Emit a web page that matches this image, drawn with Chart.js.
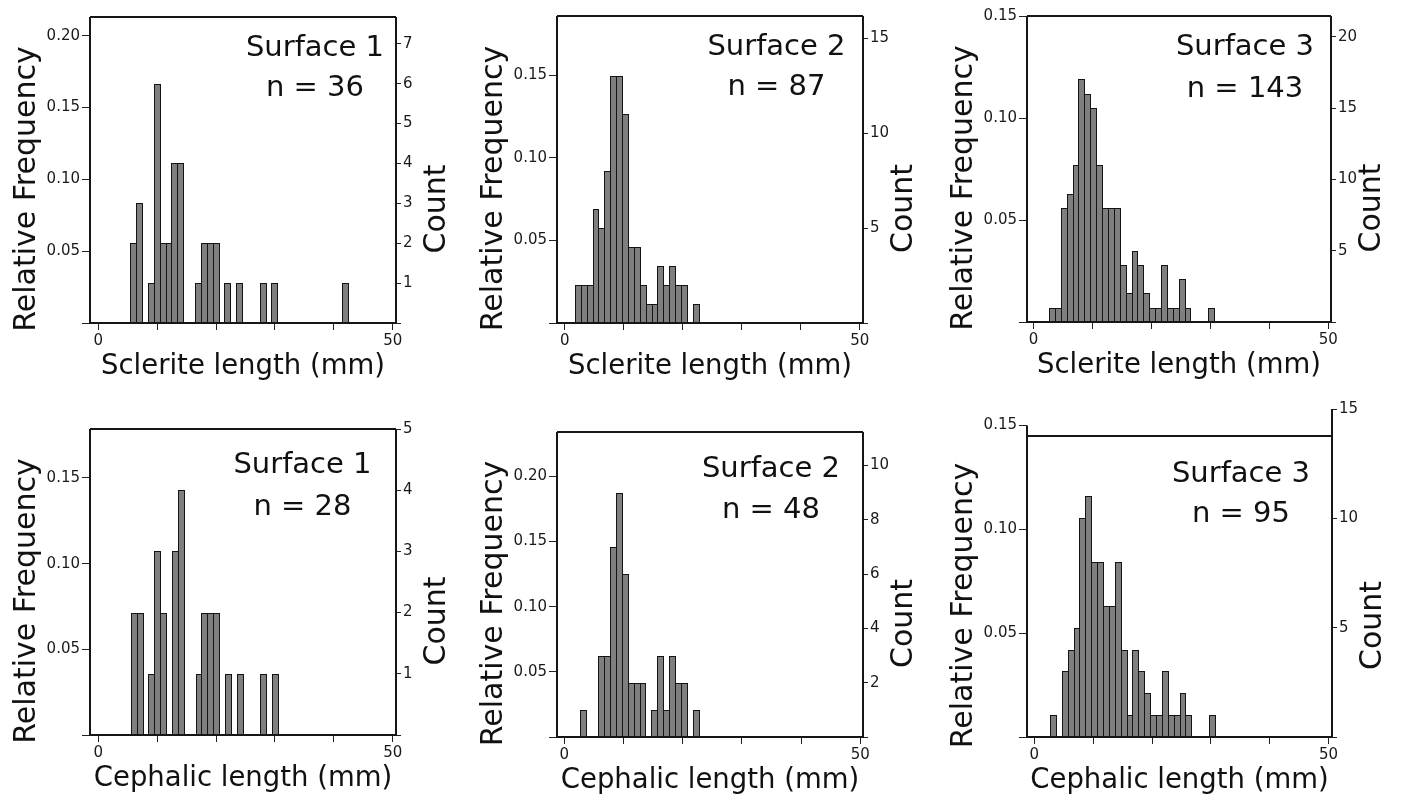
<!DOCTYPE html>
<html>
<head>
<meta charset="utf-8">
<script src="https://cdn.jsdelivr.net/npm/chart.js@4.4.1/dist/chart.umd.min.js"></script>
<style>
  html, body { margin: 0; padding: 0; background: #fff; }
  #figure { position: relative; width: 1402px; height: 796px; overflow: hidden; }
  #figure canvas { position: absolute; }
</style>
</head>
<body>
<div id="figure"></div>
<script>
// ---- data (counts per 1 mm bin, starting at the first bin edge) ----
const surfaceNames = ['Surface 1', 'Surface 2', 'Surface 3'];
const xAxisTitles = ['Sclerite length (mm)', 'Cephalic length (mm)'];
const xTickLabels = [0, 50];

const scleriteN = [36, 87, 143];
const scleriteFirstEdge = [5.5, 1.8, 2.7];
const scleriteCounts1 = [2, 3, 0, 1, 6, 2, 2, 4, 4, 0, 0, 1, 2, 2, 2, 0, 1, 0, 1, 0, 0, 0, 1, 0, 1, 0, 0, 0, 0, 0, 0, 0, 0, 0, 0, 0, 1];
const scleriteCounts2 = [2, 2, 2, 6, 5, 8, 13, 13, 11, 4, 4, 2, 1, 1, 3, 2, 3, 2, 2, 0, 1];
const scleriteCounts3 = [1, 1, 8, 9, 11, 17, 16, 15, 11, 8, 8, 8, 4, 2, 5, 4, 2, 1, 1, 4, 1, 1, 3, 1, 0, 0, 0, 1];

const cephalicN = [28, 48, 95];
const cephalicFirstEdge = [5.6, 2.8, 2.75];
const cephalicCounts1 = [2, 2, 0, 1, 3, 2, 0, 3, 4, 0, 0, 1, 2, 2, 2, 0, 1, 0, 1, 0, 0, 0, 1, 0, 1];
const cephalicCounts2 = [1, 0, 0, 3, 3, 7, 9, 6, 2, 2, 2, 0, 1, 3, 1, 3, 2, 2, 0, 1];
const cephalicCounts3 = [1, 0, 3, 4, 5, 10, 11, 8, 8, 6, 6, 8, 4, 1, 4, 3, 2, 1, 1, 3, 1, 1, 2, 1, 0, 0, 0, 1];

// ---- layout of the six panels (frame = plot box in page pixels) ----
const panels = [
  { counts: scleriteCounts1, n: scleriteN[0], edge: scleriteFirstEdge[0], name: surfaceNames[0], xTitle: xAxisTitles[0],
    frame: [90, 17, 396, 323], rowTop: 0, xMin: -1.41, xMax: 50.56, countMax: 7.67, countStep: 1, dx: 81, dy: [38.5, 78.5] },
  { counts: scleriteCounts2, n: scleriteN[1], edge: scleriteFirstEdge[1], name: surfaceNames[1], xTitle: xAxisTitles[0],
    frame: [557, 16, 863, 323], rowTop: 0, xMin: -1.31, xMax: 50.56, countMax: 16.16, countStep: 5, dx: 86.5, dy: [39.3, 79.3] },
  { counts: scleriteCounts3, n: scleriteN[2], edge: scleriteFirstEdge[2], name: surfaceNames[2], xTitle: xAxisTitles[0],
    frame: [1027, 16, 1331, 322], rowTop: 0, xMin: -1.12, xMax: 50.46, countMax: 21.45, countStep: 5, dx: 86, dy: [39, 80.7] },
  { counts: cephalicCounts1, n: cephalicN[0], edge: cephalicFirstEdge[0], name: surfaceNames[0], xTitle: xAxisTitles[1],
    frame: [90, 429, 396, 735], rowTop: 398, xMin: -1.41, xMax: 50.56, countMax: 5, countStep: 1, dx: 93.5, dy: [44.3, 86] },
  { counts: cephalicCounts2, n: cephalicN[1], edge: cephalicFirstEdge[1], name: surfaceNames[1], xTitle: xAxisTitles[1],
    frame: [557, 432, 863, 737], rowTop: 398, xMin: -1.23, xMax: 50.45, countMax: 11.23, countStep: 2, dx: 92, dy: [45.3, 86.3] },
  { counts: cephalicCounts3, n: cephalicN[2], edge: cephalicFirstEdge[2], name: surfaceNames[2], xTitle: xAxisTitles[1],
    frame: [1027, 405, 1332, 737], rowTop: 398, xMin: -1.25, xMax: 50.58, countMax: 15, countStep: 5,
    frameTop: 13.77, leftTop: 14.25, dx: 91, dy: [46.3, 86.3] },
];

Chart.defaults.font.family = "'DejaVu Sans', Verdana, sans-serif";
Chart.defaults.color = '#1a1a1a';

// snap bar edges to whole pixels so neighbouring outlines share one crisp line
const snapBars = {
  id: 'snapBars',
  afterDatasetUpdate(chart, args) {
    args.meta.data.forEach(el => {
      const l = Math.round(el.x - el.width / 2);
      const r = Math.round(el.x + el.width / 2);
      el.x = (l + r) / 2;
      el.width = r - l;
      el.y = Math.round(el.y);
    });
  }
};

// plot box, axis lines, rotated axis titles and the in-plot label
const histFrame = {
  id: 'histFrame',
  afterDraw(chart, args, o) {
    const { ctx, chartArea: a } = chart;
    const yc = chart.scales.count;
    const topY = Math.round(yc.getPixelForValue(o.frameTop));
    const leftTopY = yc.getPixelForValue(o.leftTop);
    const rightTopY = yc.getPixelForValue(o.rightTop);

    ctx.save();
    ctx.strokeStyle = '#161616';
    ctx.lineWidth = 2;
    ctx.beginPath();
    ctx.moveTo(a.left, leftTopY);
    ctx.lineTo(a.left, a.bottom);
    ctx.lineTo(a.right, a.bottom);
    ctx.lineTo(a.right, rightTopY);
    ctx.moveTo(a.left, topY);
    ctx.lineTo(a.right, topY);
    ctx.stroke();

    ctx.fillStyle = '#111';
    ctx.textAlign = 'center';
    ctx.textBaseline = 'alphabetic';
    ctx.font = "29px 'DejaVu Sans'";
    const cx = a.right - o.dx;
    ctx.fillText(o.name, cx, topY + o.dy[0]);
    ctx.fillText('n = ' + o.n, cx, topY + o.dy[1]);

    const midY = (topY + a.bottom) / 2;
    ctx.textBaseline = 'middle';
    ctx.font = "30px 'DejaVu Sans'";

    ctx.save();
    ctx.translate(a.left - 63, midY + 19);
    ctx.rotate(-Math.PI / 2);
    ctx.fillText('Relative Frequency', 0, 0);
    ctx.restore();

    ctx.save();
    ctx.translate(a.right + 41, midY + 39);
    ctx.rotate(-Math.PI / 2);
    ctx.fillText('Count', 0, 0);
    ctx.restore();

    ctx.restore();
  }
};

const figure = document.getElementById('figure');

panels.forEach(p => {
  const [L, T, R, B] = p.frame;
  const left = L - 90;
  const width = R + 71 - left;
  const height = B + 75 - p.rowTop;
  const unitPx = (R - L) / (p.xMax - p.xMin);

  const canvas = document.createElement('canvas');
  canvas.width = width;
  canvas.height = height;
  canvas.style.left = left + 'px';
  canvas.style.top = p.rowTop + 'px';
  canvas.style.width = width + 'px';
  canvas.style.height = height + 'px';
  figure.appendChild(canvas);

  const bins = p.counts.map((c, i) => ({ x: p.edge + i + 0.5, y: c > 0 ? c : null }));

  new Chart(canvas, {
    type: 'bar',
    data: {
      datasets: [{
        data: bins,
        yAxisID: 'count',
        backgroundColor: '#7f7f7f',
        borderColor: '#141414',
        borderWidth: 1,
        barPercentage: (unitPx + 1) / unitPx,
        categoryPercentage: 1,
      }],
    },
    options: {
      responsive: false,
      animation: false,
      events: [],
      layout: { padding: { top: T - p.rowTop, left: 0, right: 0, bottom: 0 } },
      plugins: {
        legend: { display: false },
        tooltip: { enabled: false },
        histFrame: {
          frameTop: p.frameTop ?? p.countMax,
          leftTop: p.leftTop ?? p.countMax,
          rightTop: p.countMax,
          name: p.name,
          n: p.n,
          dx: p.dx,
          dy: p.dy,
        },
      },
      scales: {
        x: {
          type: 'linear',
          min: p.xMin,
          max: p.xMax,
          offset: false,
          afterFit: s => { s.height = 75; },
          grid: { offset: false, drawOnChartArea: false, tickLength: 7, color: '#222' },
          border: { display: false },
          ticks: {
            stepSize: 10,
            includeBounds: false,
            autoSkip: false,
            maxRotation: 0,
            padding: 2,
            font: { size: 15 },
            callback: v => xTickLabels.includes(v) ? String(v) : '',
          },
          title: {
            display: true,
            text: p.xTitle,
            font: { size: 27.5 },
            color: '#111',
            padding: { top: 0, bottom: 15 },
          },
        },
        rel: {
          type: 'linear',
          position: 'left',
          min: 0,
          max: p.countMax / p.n,
          afterFit: s => { s.width = 90; },
          grid: { drawOnChartArea: false, tickLength: 8, color: '#222' },
          border: { display: false },
          ticks: {
            stepSize: 0.05,
            includeBounds: false,
            padding: 2,
            font: { size: 15 },
            callback: v => v > 0 ? v.toFixed(2) : '',
          },
        },
        count: {
          type: 'linear',
          position: 'right',
          min: 0,
          max: p.countMax,
          afterFit: s => { s.width = 71; },
          grid: { drawOnChartArea: false, tickLength: 5, color: '#222' },
          border: { display: false },
          ticks: {
            stepSize: p.countStep,
            includeBounds: false,
            padding: 2,
            font: { size: 15 },
            callback: v => v > 0 ? v : '',
          },
        },
      },
    },
    plugins: [snapBars, histFrame],
  });
});
</script>
</body>
</html>
